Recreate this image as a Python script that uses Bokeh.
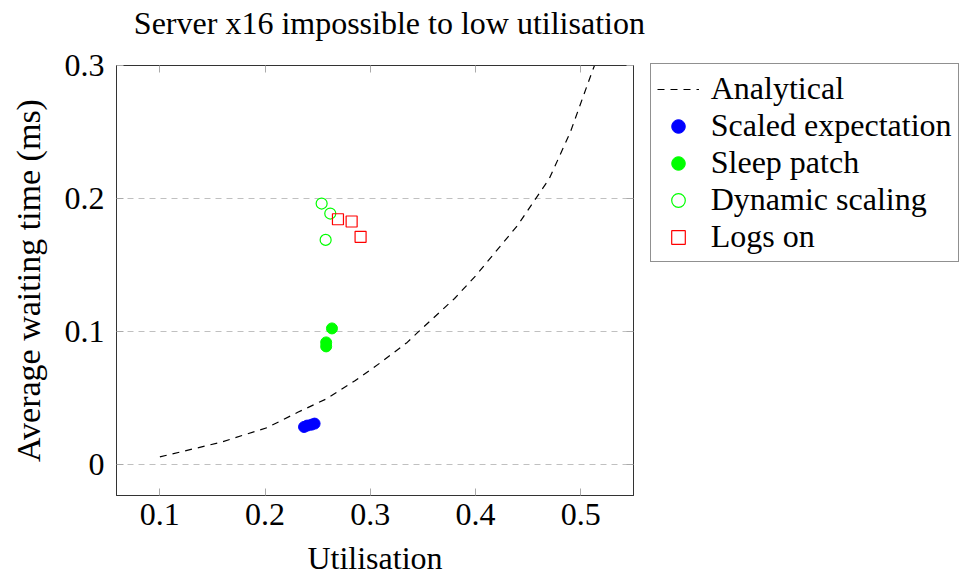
from bokeh.plotting import figure
from bokeh.models import Range1d, LinearAxis, FixedTicker, Legend, LegendItem, Label
from bokeh.embed import file_html
from bokeh.resources import INLINE

# ---- data ----
analytical_x = [0.100, 0.158, 0.202, 0.231, 0.258, 0.285, 0.310, 0.335, 0.345, 0.380, 0.400, 0.440, 0.470, 0.490, 0.511, 0.530]
analytical_y = [0.006, 0.017, 0.028, 0.0395, 0.0495, 0.063, 0.077, 0.092, 0.0995, 0.125, 0.142, 0.180, 0.215, 0.250, 0.296, 0.335]

scaled_x = [0.237, 0.240, 0.244, 0.247]
scaled_y = [0.0285, 0.0295, 0.0302, 0.031]

sleep_x = [0.2635, 0.258, 0.258]
sleep_y = [0.1025, 0.092, 0.089]

dynamic_x = [0.2537, 0.2619, 0.2575]
dynamic_y = [0.1963, 0.1888, 0.169]

logs_x = [0.2692, 0.2822, 0.2907]
logs_y = [0.1845, 0.1828, 0.1713]

x_ticks = [0.1, 0.2, 0.3, 0.4, 0.5]
y_ticks = [0, 0.1, 0.2, 0.3]

title_text = "Server x16 impossible to low utilisation"
x_label = "Utilisation"
y_label = "Average waiting time (ms)"

FONT = "Liberation Serif"
FS = "32px"

p = figure(
    frame_width=517, frame_height=430,
    min_border_left=116, min_border_top=65, min_border_right=336, min_border_bottom=82,
    x_range=Range1d(0.0588, 0.55), y_range=Range1d(-0.023, 0.3),
    output_backend="svg", toolbar_location=None,
)

p.outline_line_color = "#333333"
p.outline_line_width = 1
p.background_fill_color = "white"
p.border_fill_color = "white"

p.xgrid.visible = False
p.ygrid.ticker = FixedTicker(ticks=y_ticks)
p.ygrid.grid_line_color = "#c0c0c0"
p.ygrid.grid_line_dash = "6 5"
p.ygrid.grid_line_width = 1

for ax in p.xaxis:
    ax.ticker = FixedTicker(ticks=x_ticks)
for ax in p.yaxis:
    ax.ticker = FixedTicker(ticks=y_ticks)
    ax.major_label_overrides = {0: "0"}

for ax in list(p.xaxis) + list(p.yaxis):
    ax.axis_line_color = "#333333"
    ax.major_tick_in = 7
    ax.major_tick_out = 0
    ax.major_tick_line_color = "#aaaaaa"
    ax.minor_tick_line_color = None
    ax.major_label_text_font = FONT
    ax.major_label_text_font_size = FS
    ax.major_label_text_color = "black"
    ax.axis_label_text_font = FONT
    ax.axis_label_text_font_size = FS
    ax.axis_label_text_font_style = "normal"
    ax.axis_label_text_color = "black"

p.xaxis.major_label_standoff = 8
p.yaxis.major_label_standoff = 12
p.xaxis.axis_label = x_label
p.yaxis.axis_label = y_label
p.yaxis.axis_label_text_font_size = "34px"
p.xaxis.axis_label_standoff = 12
p.yaxis.axis_label_standoff = 15

top = LinearAxis(ticker=FixedTicker(ticks=x_ticks), major_tick_in=7, major_tick_out=0,
                 major_tick_line_color="#aaaaaa", minor_tick_line_color=None,
                 major_label_text_color=None, major_label_text_font_size="1px",
                 axis_line_color="#333333", major_label_standoff=0)
right = LinearAxis(ticker=FixedTicker(ticks=y_ticks), major_tick_in=7, major_tick_out=0,
                   major_tick_line_color="#aaaaaa", minor_tick_line_color=None,
                   major_label_text_color=None, major_label_text_font_size="1px",
                   axis_line_color="#333333", major_label_standoff=0)
p.add_layout(top, "above")
p.add_layout(right, "right")

r_an = p.line(analytical_x, analytical_y, line_color="black", line_dash="7 6", line_width=1.2)
r_sc = p.scatter(scaled_x, scaled_y, marker="circle", size=11, fill_color="#0000ff", line_color="#0000ff")
r_sl = p.scatter(sleep_x, sleep_y, marker="circle", size=11, fill_color="#00ff00", line_color="#00ff00")
r_dy = p.scatter(dynamic_x, dynamic_y, marker="circle", size=11, fill_color=None, line_color="#00ff00", line_width=1.2)
r_lo = p.scatter(logs_x, logs_y, marker="square", size=11, fill_color=None, line_color="#ff0000", line_width=1.2)

legend = Legend(
    items=[
        LegendItem(label="Analytical", renderers=[r_an]),
        LegendItem(label="Scaled expectation", renderers=[r_sc]),
        LegendItem(label="Sleep patch", renderers=[r_sl]),
        LegendItem(label="Dynamic scaling", renderers=[r_dy]),
        LegendItem(label="Logs on", renderers=[r_lo]),
    ],
    location=(-136, 233),
    margin=0, padding=6, spacing=0,
    glyph_width=42, glyph_height=34, label_height=34, label_standoff=12,
    label_text_font=FONT, label_text_font_size=FS, label_text_color="black",
    border_line_color="#222222", border_line_width=1,
    background_fill_color="white", background_fill_alpha=1,
)
p.add_layout(legend, "right")

# chart title, placed above the frame (label lives in a side panel so it is not clipped)
title_label = Label(x=0.0753, y=0.3323, x_units="data", y_units="data",
                    text=title_text, text_font=FONT, text_font_size=FS,
                    text_color="black", text_align="left", text_baseline="alphabetic")
p.add_layout(title_label, "right")

open("out.html", "w").write(file_html(p, INLINE))
